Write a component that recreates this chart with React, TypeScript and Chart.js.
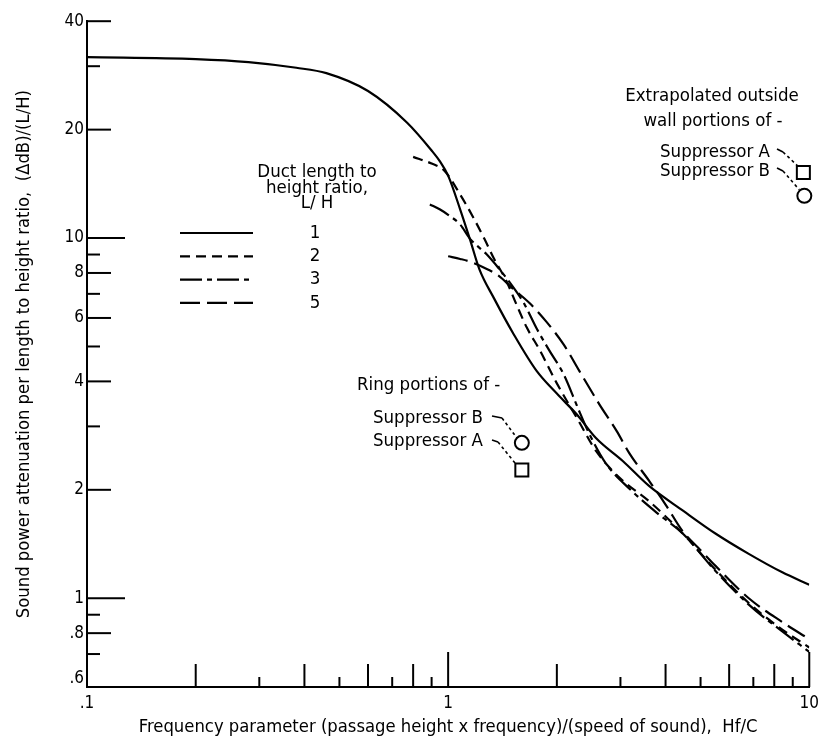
import React, { useEffect, useRef } from "react";
import { Chart, registerables } from "chart.js";

Chart.register(...registerables);

// ---- data ----
const X_LH1 = [0.1, 0.2, 0.28, 0.38, 0.46, 0.6, 0.77, 0.9, 0.95, 1.0, 1.08, 1.15, 1.22, 1.34, 1.52, 1.76, 2.0, 2.27, 2.57, 3.05, 3.6, 4.47, 5.51, 6.78, 8.42, 10];
const Y_LH1 = [31.8, 31.4, 30.8, 29.7, 28.7, 25.6, 20.9, 17.5, 16.3, 14.9, 12.0, 9.9, 8.2, 6.8, 5.4, 4.27, 3.7, 3.24, 2.78, 2.4, 2.05, 1.75, 1.51, 1.33, 1.18, 1.09];

const X_LH2 = [0.8, 0.9, 0.975, 1.08, 1.18, 1.26, 1.34, 1.45, 1.55, 1.65, 1.79, 2.0, 2.3, 2.57, 3.0, 3.6, 4.47, 5.5, 6.8, 8.4, 10];
const Y_LH2 = [16.8, 16.1, 15.4, 13.2, 11.3, 9.95, 8.76, 7.6, 6.5, 5.65, 4.9, 3.95, 3.1, 2.56, 2.15, 1.86, 1.51, 1.2, 0.97, 0.82, 0.73];

const X_LH3 = [0.89, 0.95, 1.0, 1.08, 1.15, 1.28, 1.4, 1.5, 1.62, 1.76, 1.9, 2.09, 2.28, 2.46, 2.74, 3.2, 3.8, 4.47, 5.5, 6.8, 8.4, 10];
const Y_LH3 = [12.4, 12.0, 11.6, 10.9, 9.95, 9.0, 8.1, 7.4, 6.6, 5.6, 4.9, 4.18, 3.4, 2.86, 2.36, 2.0, 1.72, 1.51, 1.19, 0.96, 0.81, 0.71];

const X_LH5 = [1.0, 1.08, 1.15, 1.25, 1.37, 1.52, 1.68, 1.87, 2.09, 2.31, 2.62, 2.93, 3.18, 3.6, 4.0, 4.47, 5.0, 5.5, 6.8, 8.4, 10];
const Y_LH5 = [8.9, 8.75, 8.6, 8.3, 7.9, 7.2, 6.6, 5.86, 5.06, 4.27, 3.46, 2.91, 2.52, 2.12, 1.82, 1.53, 1.36, 1.23, 1.0, 0.86, 0.77];

const RING_B = { x: 1.6, y: 2.7 };
const RING_A = { x: 1.6, y: 2.27 };
const EXT_A = { x: 9.63, y: 15.2 };
const EXT_B = { x: 9.69, y: 13.1 };

const SERIES_NAMES = ["1", "2", "3", "5"];

const Y_TICKS = [0.6, 0.7, 0.8, 0.9, 1, 2, 3, 4, 5, 6, 7, 8, 9, 10, 20, 30, 40];
const Y_LABELS: Record<string, string> = { "0.6": ".6", "0.8": ".8", "1": "1", "2": "2", "4": "4", "6": "6", "8": "8", "10": "10", "20": "20", "40": "40" };
const X_TICKS = [0.1, 0.2, 0.3, 0.4, 0.5, 0.6, 0.7, 0.8, 0.9, 1, 2, 3, 4, 5, 6, 7, 8, 9, 10];
const X_LABELS: Record<string, string> = { "0.1": ".1", "1": "1", "10": "10" };

const Y_MIN = 0.567;
const Y_MAX = 40;
const X_MIN = 0.1;
const X_MAX = 10;

// ---- styles ----
const FONT = "'DejaVu Sans Condensed', 'Liberation Sans Narrow', 'Roboto Condensed', 'DejaVu Sans', sans-serif";
const DASHES: number[][] = [[], [10, 6], [22, 5, 5, 5], [20, 7]];
const LINE_W = 2.2;
const ANNOT_SIZE = 18.5;

const pts = (xs: number[], ys: number[]) => xs.map((x, i) => ({ x, y: ys[i] }));

const isDecade = (v: number) => Math.abs(Math.log10(v) - Math.round(Math.log10(v))) < 1e-6;
const key = (v: number) => String(parseFloat(v.toPrecision(6)));

const overlay = {
  id: "overlay",
  afterDraw(chart: any) {
    const ctx: CanvasRenderingContext2D = chart.ctx;
    const xs = chart.scales.x;
    const ys = chart.scales.y;
    const { left, bottom } = chart.chartArea;
    ctx.save();
    ctx.strokeStyle = "#000";
    ctx.fillStyle = "#000";
    ctx.lineWidth = 2;
    ctx.setLineDash([]);
    // inward y tick marks
    Y_TICKS.forEach((v) => {
      if (v === Y_TICKS[0]) return;
      const py = ys.getPixelForValue(v);
      let len = Y_LABELS[key(v)] ? 24 : 13;
      if (isDecade(v)) len = 38;
      ctx.beginPath();
      ctx.moveTo(left, py);
      ctx.lineTo(left + len, py);
      ctx.stroke();
    });
    // inward x tick marks
    X_TICKS.forEach((v, i) => {
      if (i === 0) return;
      const px = xs.getPixelForValue(v);
      const m = Math.round(v / Math.pow(10, Math.floor(Math.log10(v) + 1e-9)));
      let len = m % 2 === 0 ? 23 : 10;
      if (isDecade(v)) len = 35;
      ctx.beginPath();
      ctx.moveTo(px, bottom);
      ctx.lineTo(px, bottom - len);
      ctx.stroke();
    });

    // legend
    ctx.font = `${ANNOT_SIZE}px ${FONT}`;
    ctx.textAlign = "center";
    ctx.textBaseline = "middle";
    ["Duct length to", "height ratio,", "L/ H"].forEach((t, i) => ctx.fillText(t, 309, 164 + i * 15.8));
    SERIES_NAMES.forEach((n, i) => {
      const y = 225 + i * 23.3;
      ctx.lineWidth = LINE_W;
      ctx.setLineDash(DASHES[i]);
      ctx.beginPath();
      ctx.moveTo(172, y);
      ctx.lineTo(245, y);
      ctx.stroke();
      ctx.setLineDash([]);
      ctx.fillText(n, 307, y);
    });

    // extrapolated annotation
    ctx.fillText("Extrapolated outside", 704, 88);
    ctx.fillText("wall portions of -", 705, 113);
    ctx.textAlign = "right";
    ctx.fillText("Suppressor A", 762, 144);
    ctx.fillText("Suppressor B", 762, 163);

    // ring annotation
    ctx.textAlign = "left";
    ctx.fillText("Ring portions of -", 349, 377);
    ctx.fillText("Suppressor B", 365, 410);
    ctx.fillText("Suppressor A", 365, 433);

    // leaders
    const leader = (x0: number, y0: number, x1: number, y1: number, mk: { x: number; y: number }, dx: number, dy: number) => {
      const mx = xs.getPixelForValue(mk.x) + dx;
      const my = ys.getPixelForValue(mk.y) + dy;
      ctx.lineWidth = 1.6;
      ctx.setLineDash([]);
      ctx.beginPath();
      ctx.moveTo(x0, y0);
      ctx.lineTo(x1, y1);
      ctx.stroke();
      ctx.setLineDash([3, 3]);
      ctx.beginPath();
      ctx.moveTo(x1, y1);
      ctx.lineTo(mx, my);
      ctx.stroke();
    };
    leader(769, 141, 775, 144, EXT_A, -6, -7);
    leader(769, 160, 775, 163, EXT_B, -5, -6);
    leader(484, 408, 494, 410, RING_B, -5, -5);
    leader(484, 432, 490, 434, RING_A, -6, -6);
    ctx.restore();
  },
};

export default function App() {
  const ref = useRef<HTMLCanvasElement | null>(null);
  useEffect(() => {
    if (!ref.current) return;
    const lineDs = (xs: number[], ys: number[], i: number) => ({
      label: SERIES_NAMES[i],
      data: pts(xs, ys),
      showLine: true,
      borderColor: "#000",
      backgroundColor: "#000",
      borderWidth: LINE_W,
      borderDash: DASHES[i],
      pointRadius: 0,
      cubicInterpolationMode: "monotone" as const,
      fill: false,
    });
    const markerDs = (p: { x: number; y: number }, style: string, r: number) => ({
      label: "m",
      data: [p],
      showLine: false,
      pointStyle: style,
      pointRadius: r,
      pointBorderWidth: 2,
      pointBorderColor: "#000",
      pointBackgroundColor: "#fff",
      clip: false,
    });
    const chart = new Chart(ref.current, {
      type: "scatter",
      data: {
        datasets: [
          lineDs(X_LH1, Y_LH1, 0),
          lineDs(X_LH2, Y_LH2, 1),
          lineDs(X_LH3, Y_LH3, 2),
          lineDs(X_LH5, Y_LH5, 3),
          markerDs(RING_B, "circle", 7),
          markerDs(RING_A, "rect", 9.2),
          markerDs(EXT_A, "rect", 9.2),
          markerDs(EXT_B, "circle", 7),
        ] as any,
      },
      options: {
        animation: false,
        responsive: false,
        layout: { padding: { top: 10, right: 12, left: 0, bottom: 0 } },
        plugins: { legend: { display: false }, tooltip: { enabled: false } },
        scales: {
          x: {
            type: "logarithmic",
            min: X_MIN,
            max: X_MAX,
            afterBuildTicks: (s: any) => {
              s.ticks = X_TICKS.map((v) => ({ value: v }));
            },
            afterFit: (s: any) => {
              s.height = 51;
            },
            grid: { display: false, drawTicks: false },
            border: { display: true, color: "#000", width: 2 },
            ticks: {
              autoSkip: false,
              maxRotation: 0,
              padding: 6,
              color: "#000",
              font: { family: FONT, size: 17 },
              callback: (v: any) => X_LABELS[key(Number(v))] ?? "",
            },
            title: {
              display: true,
              text: "Frequency parameter (passage height x frequency)/(speed of sound),  Hf/C",
              color: "#000",
              font: { family: FONT, size: 18.3 },
              padding: { top: 0, bottom: 0 },
            },
          },
          y: {
            type: "logarithmic",
            min: Y_MIN,
            max: Y_MAX,
            afterBuildTicks: (s: any) => {
              s.ticks = Y_TICKS.map((v) => ({ value: v }));
            },
            afterFit: (s: any) => {
              s.width = 79;
            },
            grid: { display: false, drawTicks: false },
            border: { display: true, color: "#000", width: 2 },
            ticks: {
              autoSkip: false,
              padding: 3,
              color: "#000",
              font: { family: FONT, size: 17 },
              callback: (v: any) => Y_LABELS[key(Number(v))] ?? "",
            },
            title: {
              display: true,
              text: "Sound power attenuation per length to height ratio,  (\u0394dB)/(L/H)",
              color: "#000",
              font: { family: FONT, size: 18.3 },
              padding: { top: 5, bottom: 0 },
            },
          },
        },
      } as any,
      plugins: [overlay],
    });
    return () => chart.destroy();
  }, []);
  return (
    <canvas
      ref={ref}
      width={817}
      height={730}
      style={{ display: "block", width: 817, height: 730, background: "#fff" }}
    />
  );
}
